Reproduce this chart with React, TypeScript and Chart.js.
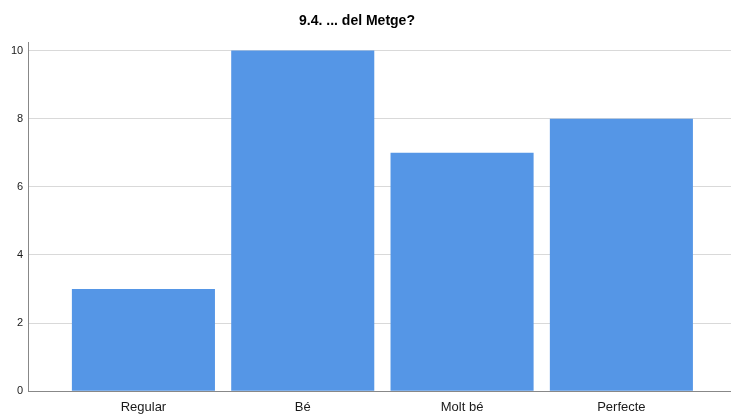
import React, { useEffect, useRef } from "react";
import { Chart, registerables } from "chart.js";

Chart.register(...registerables);

const title = "9.4. ... del Metge?";
const categories = ["Regular", "Bé", "Molt bé", "Perfecte"];
const counts = [3, 10, 7, 8];
const yTicks = [0, 2, 4, 6, 8, 10];

const FONT = "'Liberation Sans', Arial, sans-serif";

const titleShift = {
  id: "titleShift",
  afterLayout(chart: any) {
    const t = chart.titleBlock;
    if (t) t.left -= 23;
  },
};

export default function App() {
  const ref = useRef<HTMLCanvasElement | null>(null);

  useEffect(() => {
    if (!ref.current) return;
    const chart = new Chart(ref.current, {
      type: "bar",
      plugins: [titleShift],
      data: {
        datasets: [
          {
            data: counts.map((v, i) => ({ x: i, y: v })),
            backgroundColor: "#5596E6",
            borderWidth: 0,
            categoryPercentage: 1,
            barPercentage: 0.898,
          },
        ],
      },
      options: {
        responsive: false,
        animation: false,
        layout: { padding: { left: 6, right: 0, top: 0, bottom: -7.2 } },
        plugins: {
          legend: { display: false },
          tooltip: { enabled: false },
          title: {
            display: true,
            text: title,
            color: "#000",
            font: { family: FONT, size: 14, weight: "bold" },
            padding: { top: 12.6, bottom: 12.6 },
          },
        },
        scales: {
          x: {
            type: "linear",
            offset: false,
            min: -0.723,
            max: 3.688,
            afterBuildTicks: (s: any) => {
              s.ticks = categories.map((_, i) => ({ value: i }));
            },
            ticks: {
              callback: (v: any) => categories[Number(v)] ?? "",
              color: "#1a1a1a",
              font: { family: FONT, size: 13 },
              padding: 8.2,
              maxRotation: 0,
              autoSkip: false,
            },
            grid: { display: false, drawTicks: false },
            border: { display: true, color: "#888", width: 1 },
          },
          y: {
            type: "linear",
            min: 0,
            max: 10.25,
            afterBuildTicks: (s: any) => {
              s.ticks = yTicks.map((v) => ({ value: v }));
            },
            ticks: {
              color: "#1a1a1a",
              font: { family: FONT, size: 11 },
              padding: 5,
            },
            grid: { color: "#d9d9d9", lineWidth: 1, drawTicks: false },
            border: { display: true, color: "#888", width: 1 },
          },
        },
      },
    });
    return () => chart.destroy();
  }, []);

  return (
    <div style={{ position: "absolute", left: 0, top: 0, width: 731, height: 416, background: "#fff" }}>
      <canvas ref={ref} width={731} height={416} />
    </div>
  );
}
